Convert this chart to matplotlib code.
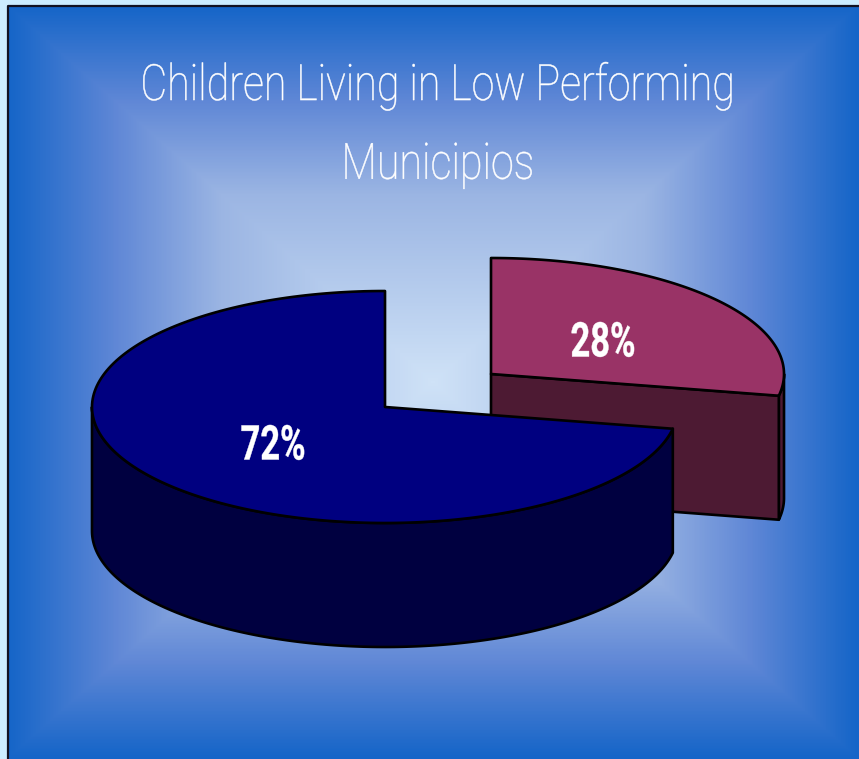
import numpy as np
import matplotlib
matplotlib.use("Agg")
import matplotlib.pyplot as plt
from matplotlib.colors import LinearSegmentedColormap
from matplotlib.patches import Polygon
from matplotlib.patheffects import AbstractPathEffect
from matplotlib.transforms import Affine2D

# Chart data
TITLE_LINES = ["Children Living in Low Performing", "Municipios"]
SHARES = [72, 28]
SHARE_LABELS = ["72%", "28%"]

# Graph properties
COLORS_TOP = ["#000080", "#993366"]
COLORS_SIDE = ["#000040", "#4d1a33"]
RX, RY, DEPTH = 293, 116, 124
CENTERS = [(385, 407), (491, 374)]
LABEL_POS = [(273, 441.5), (603, 338.5)]
LINE_WIDTH = 1.9
FONT = ["Roboto", "DejaVu Sans"]


class Condense(AbstractPathEffect):
    # squeeze the glyphs sideways, there is no narrow font installed
    def __init__(self, x0, sx, stroke):
        super().__init__()
        self.x0 = x0
        self.sx = sx
        self.stroke = stroke

    def draw_path(self, renderer, gc, tpath, affine, rgbFace=None):
        squeeze = Affine2D().translate(-self.x0, 0).scale(self.sx, 1).translate(self.x0, 0)
        gc0 = renderer.new_gc()
        gc0.copy_properties(gc)
        gc0.set_linewidth(self.stroke)
        gc0.set_foreground(rgbFace)
        renderer.draw_path(gc0, tpath, affine + squeeze, rgbFace)
        gc0.restore()


def arc(center, start, end):
    theta = np.radians(np.linspace(start, end, 200))
    return np.column_stack((center[0] + RX * np.cos(theta), center[1] - RY * np.sin(theta)))


def add_poly(ax, points, color):
    ax.add_patch(Polygon(points, closed=True, facecolor=color, edgecolor="black",
                         linewidth=LINE_WIDTH, joinstyle="round"))


def extrude(points):
    return np.vstack((points, points[::-1] + [0, DEPTH]))


def draw_background(ax):
    x = np.arange(8, 859) + 0.5
    y = np.arange(6, 759) + 0.5
    xx, yy = np.meshgrid(x, y)
    t = np.maximum(np.abs(xx - 433) / 425, np.abs(yy - 382) / 376)
    cmap = LinearSegmentedColormap.from_list("frame", [(0, "#cfe2f7"), (0.5, "#9bb5e3"),
                                                        (0.75, "#5f87d6"), (1, "#1565c8")])
    ax.imshow(t, cmap=cmap, vmin=0, vmax=1, extent=(8, 859, 759, 6), aspect="auto", zorder=0)
    ax.plot([8, 8, 859], [759, 6, 6], color="#111122", linewidth=1.6, zorder=1)


def put_text(ax, x, y, s, size, sx, weight, stroke):
    ax.text(x, y, s, color="white", fontsize=size, fontweight=weight, family=FONT,
            ha="center", va="center_baseline", path_effects=[Condense(x, sx, stroke)])


fig = plt.figure(figsize=(8.59, 7.59), dpi=100, facecolor="#ccecff")
ax = fig.add_axes([0, 0, 1, 1])
draw_background(ax)
ax.set_xlim(0, 859)
ax.set_ylim(759, 0)
ax.axis("off")

# angles go counterclockwise from twelve o'clock
blue_end = 90 + 360 * SHARES[0] / sum(SHARES)
red_end = blue_end + 360 * SHARES[1] / sum(SHARES)

# exploded slice goes behind
c = np.array(CENTERS[1])
cut = np.vstack((c, arc(c, blue_end, blue_end)[0]))
add_poly(ax, extrude(arc(c, blue_end, 360)), COLORS_SIDE[1])
add_poly(ax, extrude(cut), COLORS_SIDE[1])
add_poly(ax, np.vstack((c, arc(c, blue_end, red_end))), COLORS_TOP[1])

# big slice
c = np.array(CENTERS[0])
add_poly(ax, extrude(arc(c, 180, blue_end)), COLORS_SIDE[0])
add_poly(ax, np.vstack((c, arc(c, 90, blue_end))), COLORS_TOP[0])

for (x, y), label in zip(LABEL_POS, SHARE_LABELS):
    put_text(ax, x, y, label, 34.5, 0.72, "bold", 0.3)

put_text(ax, 438, 81, TITLE_LINES[0], 36, 0.825, "light", 0.35)
put_text(ax, 438, 160, TITLE_LINES[1], 36, 0.825, "light", 0.35)

fig.savefig("out.png", dpi=100, facecolor=fig.get_facecolor())
